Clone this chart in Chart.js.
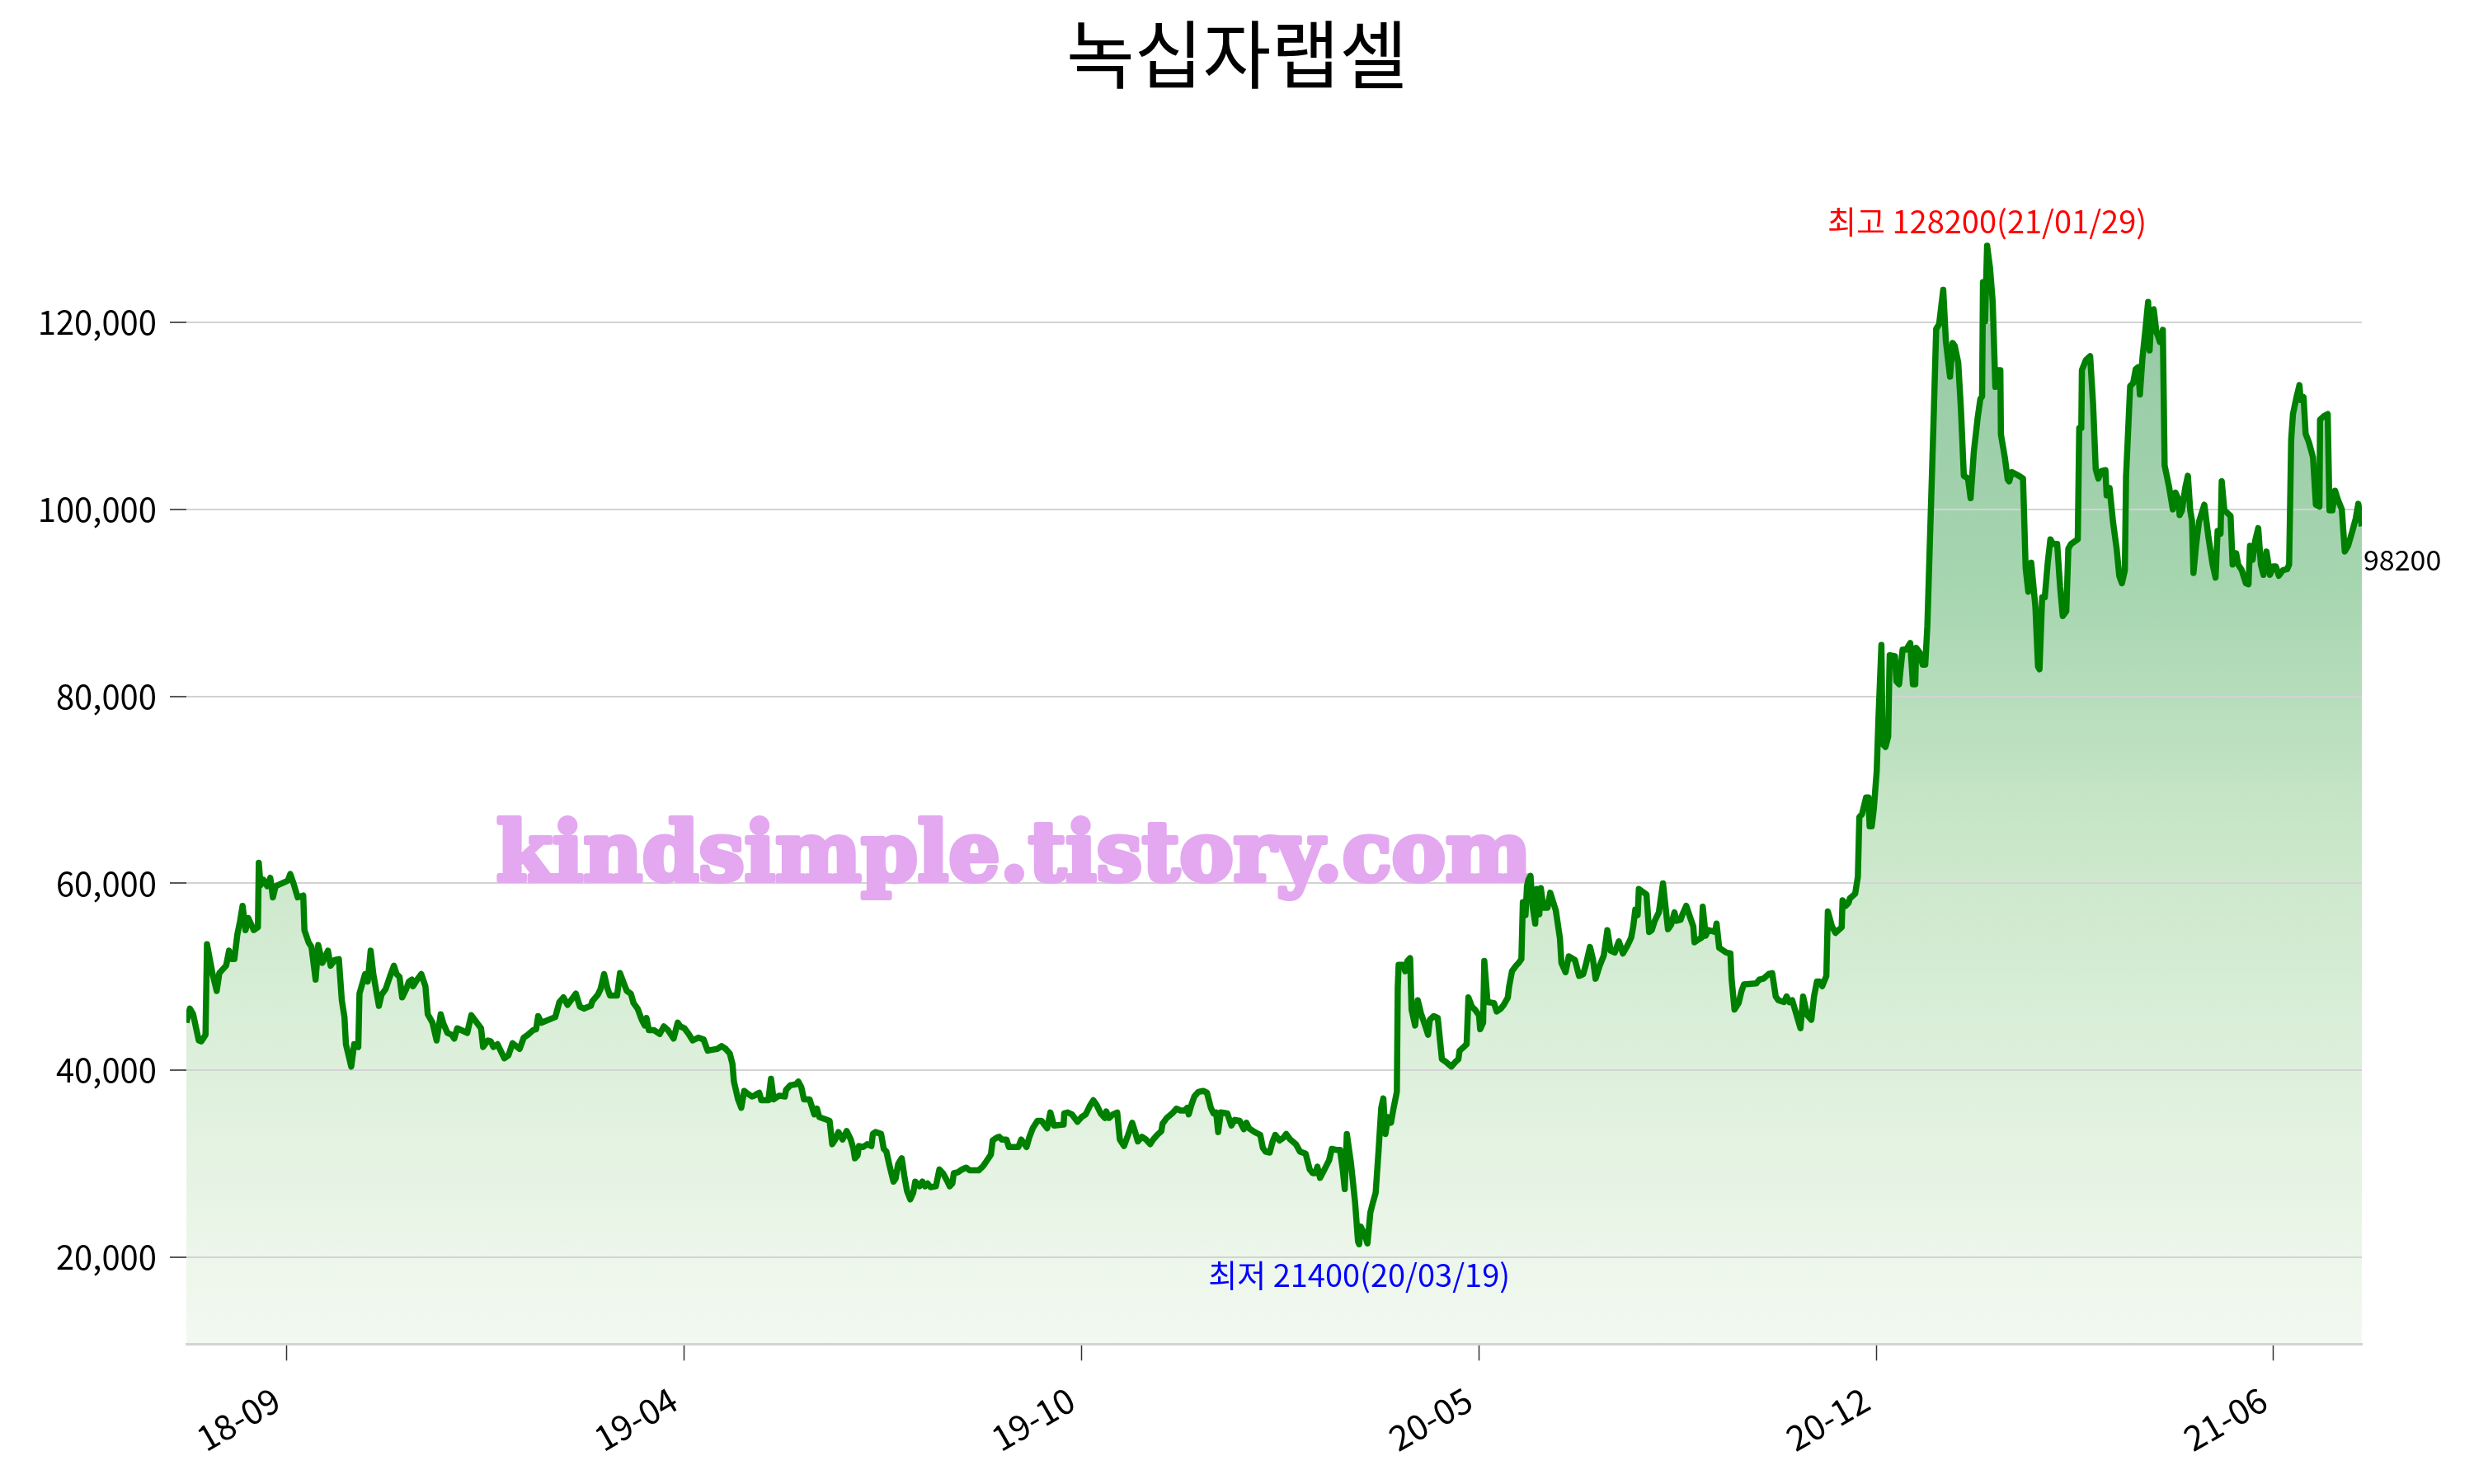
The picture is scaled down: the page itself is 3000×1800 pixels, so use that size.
<!DOCTYPE html>
<html><head><meta charset="utf-8">
<script src="https://cdn.jsdelivr.net/npm/chart.js@4.4.0/dist/chart.umd.min.js"></script>
<style>html,body{margin:0;padding:0;background:#fff}#wrap{width:3000px;height:1800px;position:relative}</style>
</head><body><div id="wrap"><canvas id="c"></canvas></div>
<script>
const titleText = '녹십자랩셀';
// trading-day index (x)
const days = [
0,1.2,2.3,4.2,5.1,6.5,7.0,8.9,10.3,11.2,13.5,14.5,15.4,16.3,17.3,18.2,19.1,20.1,21.0,21.9,22.9,24.3,24.6,25.2,26.1,27.5,28.5,29.4,30.3,33.1,34.5,35.3,36.4,37.8,39.7,40.1,41.5,42.5,43.9,44.8,46.2,48.1,49.0,50.4,51.8,52.8,53.7,54.2,56.0,57.0,58.4,58.8,59.8,60.7,61.6,62.6,63.5,65.4,66.3,67.7,69.1,70.5,71.4,72.4,73.3,74.7,75.6,76.6,77.0,78.4,79.8,81.2,82.0,83.6,85.0,86.4,87.3,88.7,90.1,91.0,92.0,93.4,
95.4,96.8,98.2,100.1,100.8,102.4,103.4,104.3,105.7,108.0,109.4,110.8,113.2,114.6,116.0,117.8,118.8,119.5,120.6,125.3,126.7,128.1,129.5,132.3,133.7,135.1,136.5,137.4,137.9,139.8,140.7,141.9,143.0,143.9,146.3,147.3,148.6,149.6,151.0,151.9,153.3,154.7,155.7,156.3,157.1,158.9,160.8,162.2,163.6,165.5,166.9,167.8,169.2,170.6,172.0,173.9,175.7,177.1,178.5,180.4,181.8,183.2,184.6,185.5,186.0,187.4,
188.5,189.5,190.7,192.1,193.0,193.9,194.6,195.3,197.7,198.6,199.5,201.4,203.3,203.7,205.1,207.0,207.9,208.9,209.8,211.7,212.6,213.3,214.2,215.0,216.8,218.5,219.4,220.4,221.5,222.9,224.3,225.7,226.6,227.1,228.0,228.5,229.9,231.3,232.7,233.2,234.1,236.0,236.9,237.8,238.8,240.2,240.9,241.8,243.0,243.9,244.8,245.9,246.9,247.6,249.0,250.0,250.9,251.8,252.8,254.6,255.8,257.0,258.4,259.3,260.2,260.7,262.1,263.5,264.9,266.1,269.1,270.5,271.4,273.3,273.9,275.2,276.1,277.0,278.6,279.4,282.6,283.6,
285.4,286.3,287.5,289.1,290.5,292.4,293.5,294.7,298.0,298.2,299.4,300.8,302.7,304.1,305.5,306.9,308.1,309.2,310.6,312.0,312.5,313.4,314.8,316.2,317.1,318.5,319.9,321.3,322.3,323.2,324.6,326.0,327.4,328.4,329.8,331.2,331.6,333.0,334.9,336.3,337.7,339.1,340.0,340.5,341.4,342.4,343.8,345.4,346.7,348.0,348.9,349.8,350.5,351.4,353.6,355.0,356.1,357.8,359.2,360.1,361.0,362.9,364.8,365.7,366.6,368.0,369.0,369.9,371.3,372.7,373.6,375.0,376.9,378.3,
380.2,381.6,382.6,383.5,384.2,385.1,386.6,388.2,389.1,390.5,391.9,392.8,393.5,394.2,395.6,397.0,398.0,398.4,398.9,400.3,401.2,402.2,403.1,404.0,405.0,405.9,406.6,407.3,408.2,409.2,410.1,411.2,411.5,411.8,413.4,414.0,414.8,415.7,416.2,417.4,418.3,419.4,420.9,421.8,422.4,423.7,425.1,426.5,427.9,429.7,431.1,432.1,432.5,433.9,434.9,435.5,436.7,437.7,439.1,439.5,440.5,440.9,442.0,444.2,445.1,446.5,447.5,448.9,449.3,450.3,451.7,452.6,453.5,454.0,454.9,455.4,455.9,456.6,457.3,458.2,458.7,459.6,460.1,461.0,462.4,463.3,465.2,466.6,467.1,468.5,
469.6,471.7,473.1,474.5,475.4,476.8,477.8,478.7,480.1,481.5,482.7,483.8,485.2,486.6,488.0,489.6,490.8,491.5,492.2,493.0,493.4,496.0,496.9,497.8,498.8,500.2,501.6,503.3,504.4,505.5,506.2,507.6,508.1,509.5,510.9,511.9,512.3,513.7,514.7,515.1,516.1,517.0,519.3,519.8,520.7,523.1,524.5,524.9,525.9,527.3,528.2,529.1,533.3,534.3,535.7,537.5,538.7,539.9,540.8,542.7,543.6,544.5,545.5,546.9,548.3,549.2,550.6,552.0,552.9,553.9,554.8,555.7,557.1,557.6,559.0,560.2,562.3,562.6,563.7,564.6,565.1,
566.9,567.8,568.3,569.2,570.6,571.4,571.8,572.5,573.2,574.2,574.8,575.8,576.2,577.2,578.1,578.6,580.4,580.9,581.8,583.0,584.2,585.6,586.5,587.3,587.6,588.8,589.8,590.7,591.4,592.1,593.5,594.4,595.4,596.8,597.7,599.1,600.0,600.7,601.9,602.8,603.8,605.2,606.1,607.2,608.5,609.4,610.0,610.3,611.0,611.7,612.7,613.6,614.5,615.5,616.2,616.4,617.8,618.7,619.2,620.1,622.5,623.9,624.8,625.7,626.7,628.1,629.0,629.5,630.4,631.3,632.3,633.2,634.1,635.5,636.5,637.4,638.6,639.3,640.2,642.5,643.0,643.7,643.9,645.3,646.7,647.7,648.6,649.5,650.5,651.9,652.3,653.3,
654.5,655.7,656.6,657.5,658.5,658.9,660.3,661.3,662.2,663.0,663.6,664.5,665.5,666.4,666.9,667.6,668.3,669.2,669.9,670.4,671.4,672.0,673.4,674.8,675.7,676.7,677.1,677.9,679.0,679.9,680.7,681.3,681.8,682.7,683.7,685.5,686.9,688.3,689.3,690.0,691.0,691.4,692.3,694.4,695.1,696.3,697.0,698.2,699.6,700.5,701.0,701.9,702.8,703.8,704.7,705.6,706.6,707.8,708.9,709.8,710.8,712.2,713.6,714.3,715.0,715.6,716.8,717.8,718.2,719.2,719.9,721.0,722.4,723.4,724.6,724.8,726.2,727.4,728.0,729.0,729.9,730.8,732.2,733.2,734.3,735.8,736.9,737.8,739.0
];
// closing prices (KRW)
const prices = [
45100,46600,46000,43200,43100,43800,53500,50300,48500,50400,51200,52800,51900,51900,54500,55900,57600,55000,56300,55700,55000,55300,62200,59800,60400,59700,60600,58500,59700,60100,60300,61000,60000,58500,58700,55000,53700,53200,49700,53400,51500,52800,51200,51800,51900,47500,45700,42800,40400,42800,42500,48200,49300,50300,49500,52800,50300,46900,48100,48700,50000,51200,50300,50000,47800,48700,49500,49700,49000,49700,50300,49000,46000,45100,43200,46000,45000,44000,43800,43400,44500,44300,
44000,45900,45300,44500,42500,43200,43100,42500,42800,41300,41600,42900,42300,43500,43800,44300,44400,45800,45100,45700,47300,47800,47000,48200,46800,46600,46800,46900,47400,48100,48700,50300,48800,48000,48000,50400,49300,48500,48200,47200,46600,45400,44800,45600,44300,44300,43900,44700,44300,43400,45100,44700,44500,43900,43200,43500,43300,42100,42200,42300,42600,42300,41800,40700,38800,36900,
36000,37800,37500,37200,37300,37500,37600,36800,36800,39100,36900,37300,37200,37900,38400,38500,38800,38200,36900,36900,36000,35300,35900,35000,34800,34600,32100,32600,33400,32600,33500,32600,31600,30600,30900,31900,31800,32100,31900,33200,33400,33200,31600,31300,29900,28100,28400,30000,30600,28700,27100,26200,26900,28100,27600,28100,27600,27900,27500,27600,29400,29000,28200,27600,27900,29000,29100,29400,29600,29300,29300,29700,30100,31000,32500,32800,32900,32600,32600,31800,31800,32600,
31800,32800,33800,34600,34600,33800,35500,34100,34200,35400,35500,35300,34500,35000,35300,36200,36800,36300,35400,34900,35600,34900,35300,35500,32600,31900,33100,34400,33400,32400,32900,32600,32100,32600,33100,33500,34300,34900,35400,35900,35700,35700,36000,35300,36300,37200,37700,37800,37600,36000,35400,35500,33400,35500,35400,34100,34700,34600,33700,34400,33800,33400,33100,31700,31300,31200,32400,33100,32500,32800,33200,32600,32100,31300,
31100,29400,29000,29000,29700,28500,29400,30400,31600,31500,31500,29400,27300,33200,30100,25900,21700,21400,23300,22400,21500,24800,25900,26900,31500,36000,37000,33200,35000,34400,36000,37700,48900,51300,51300,50600,51700,52000,46500,44800,47500,46100,44700,43800,45400,45800,45600,41200,40900,40400,40900,41200,42100,42500,42800,47800,46800,46500,45900,44400,45100,51700,47300,47200,46300,46600,47000,47800,48900,50600,51200,51500,51900,58000,56600,59700,60400,60800,57600,55700,59400,56700,59500,57400,57400,59000,57100,54100,51500,50500,
52200,51800,50100,50300,51300,53200,51900,49800,51200,52300,55000,52800,52600,53800,52500,53400,54200,55400,57200,56600,59400,58800,54800,55000,56000,56900,60000,55100,55600,56900,56000,56100,56600,57600,56300,55400,53700,54000,54200,57500,54400,55000,54800,55700,53100,52600,52500,49800,46500,47200,48400,49200,49300,49700,49800,50300,50400,47900,47500,47300,47900,47300,47500,46000,44500,47900,45900,45400,47900,49500,49500,49000,50100,57000,55400,54700,55300,58200,57600,57900,58400,
58900,60700,67100,67400,69200,69200,66100,66100,67900,72000,77700,85500,74900,74600,75700,84400,84300,81600,81300,85000,85000,85700,81300,81300,85200,84700,83400,83400,87500,94800,109300,119300,119800,123500,118000,114200,117800,117500,115700,110800,103600,103300,101200,106200,109800,111800,112100,124300,120100,128200,125800,122200,113100,114900,114900,108000,105400,103200,103000,104000,103600,103300,93700,91200,94300,89600,83200,82900,90600,90600,94300,96800,96300,96300,91700,88600,89100,95800,96300,96800,108700,108700,114900,116000,116400,111300,104300,103300,104100,104200,101500,102300,
98600,95800,92900,92100,93500,103500,113200,113500,115000,115200,112300,116300,119300,122200,117000,121300,121400,119000,118400,117900,119200,104700,102600,100000,101800,101100,99400,99900,102300,103600,99900,98800,93200,96200,98700,100500,97000,94100,92700,97700,97400,103000,99900,99300,94100,95300,94100,93500,92100,92000,96100,94600,96700,98000,94100,93000,95500,93000,93900,93900,92900,93500,93600,94100,107500,110200,112000,113300,111700,112000,108100,107200,105600,100500,100300,109600,110000,110200,99900,99900,102000,101100,100000,95500,96100,97700,99000,100600,98200
];
const xTickDays = [34, 169, 304, 439, 574, 709];
const xTickLabels = ['18-09', '19-04', '19-10', '20-05', '20-12', '21-06'];
const yTicks = [20000, 40000, 60000, 80000, 100000, 120000];
const maxLabel = '최고', maxDate = '21/01/29';
const minLabel = '최저', minDate = '20/03/19';
const watermark = 'kindsimple.tistory.com';

const hiVal = Math.max(...prices), loVal = Math.min(...prices);
const span = hiVal - loVal;
const yMin = loVal - span * 0.1, yMax = hiVal + span * 0.1;
const xMax = days[days.length - 1];
const FONT = '"Noto Sans CJK KR", "Noto Sans", sans-serif';

const points = days.map((d, i) => ({x: d, y: prices[i]}));

function fillGradient(c) {
  const {ctx, chartArea} = c.chart;
  if (!chartArea) return 'rgba(0,128,0,0.2)';
  const g = ctx.createLinearGradient(0, chartArea.top, 0, chartArea.bottom);
  g.addColorStop(0, 'rgb(140,195,158)');
  g.addColorStop(0.083, 'rgb(147,199,163)');
  g.addColorStop(0.36, 'rgb(165,213,175)');
  g.addColorStop(0.566, 'rgb(200,230,200)');
  g.addColorStop(0.773, 'rgb(222,240,220)');
  g.addColorStop(1, 'rgb(243,249,241)');
  return g;
}

const annotations = {
  id: 'annotations',
  beforeDatasetsDraw(chart) {
    const ctx = chart.ctx;
    ctx.save();
    ctx.font = 'bold 100px "DejaVu Serif"';
    const w = ctx.measureText(watermark).width;
    ctx.fillStyle = 'rgb(227,168,239)';
    ctx.strokeStyle = 'rgb(227,168,239)';
    ctx.lineWidth = 6;
    ctx.lineJoin = 'round';
    ctx.textBaseline = 'alphabetic';
    ctx.textAlign = 'left';
    ctx.translate(602, 1068);
    ctx.scale(1255 / w, 1);
    ctx.strokeText(watermark, 0, 0);
    ctx.fillText(watermark, 0, 0);
    ctx.restore();
  },
  afterDatasetsDraw(chart) {
    const ctx = chart.ctx, xs = chart.scales.x, ys = chart.scales.y;
    const iHi = prices.indexOf(hiVal), iLo = prices.indexOf(loVal), iLast = prices.length - 1;
    ctx.save();
    ctx.font = '38px ' + FONT;
    ctx.textAlign = 'center';
    ctx.textBaseline = 'alphabetic';
    ctx.fillStyle = '#ff0000';
    ctx.fillText(maxLabel + ' ' + hiVal + '(' + maxDate + ')', xs.getPixelForValue(days[iHi]), ys.getPixelForValue(hiVal) - 15);
    ctx.fillStyle = '#0000ff';
    ctx.fillText(minLabel + ' ' + loVal + '(' + minDate + ')', xs.getPixelForValue(days[iLo]), ys.getPixelForValue(loVal) + 52);
    ctx.fillStyle = '#000000';
    ctx.textAlign = 'left';
    ctx.font = '34px ' + FONT;
    ctx.fillText(String(prices[iLast]), xs.getPixelForValue(days[iLast]) + 2, ys.getPixelForValue(prices[iLast]) + 54);
    ctx.restore();
  }
};

new Chart(document.getElementById('c'), {
  type: 'line',
  data: {
    datasets: [{
      data: points,
      borderColor: '#008000',
      borderWidth: 7.5,
      borderJoinStyle: 'round',
      pointRadius: 0,
      tension: 0,
      fill: 'start',
      backgroundColor: fillGradient
    }]
  },
  options: {
    responsive: true,
    maintainAspectRatio: false,
    animation: false,
    events: [],
    layout: {padding: 0},
    plugins: {
      legend: {display: false},
      tooltip: {enabled: false},
      filler: {drawTime: 'beforeDraw'},
      title: {
        display: true, text: titleText, color: '#000',
        font: {family: FONT, size: 90, weight: 'normal'},
        padding: {top: 12, bottom: 57}
      }
    },
    scales: {
      x: {
        type: 'linear', min: 0, max: xMax,
        afterBuildTicks: s => { s.ticks = xTickDays.map(v => ({value: v})); },
        afterFit: s => { s.height = 169.7; },
        grid: {drawOnChartArea: false, drawTicks: true, tickLength: 20, tickColor: '#333', tickWidth: 1.5},
        border: {display: true, color: '#d3d3d3', width: 3},
        ticks: {
          autoSkip: false, maxRotation: 30, minRotation: 30, padding: 22, labelOffset: -12, color: '#000',
          font: {family: FONT, size: 42},
          callback: v => xTickLabels[xTickDays.indexOf(v)]
        }
      },
      y: {
        min: yMin, max: yMax,
        afterBuildTicks: s => { s.ticks = yTicks.map(v => ({value: v})); },
        afterFit: s => { s.width = 226; },
        grid: {color: '#d3d3d3', lineWidth: 2, tickLength: 20, tickColor: '#222', tickWidth: 1.5},
        border: {display: false},
        ticks: {
          padding: 16, color: '#000',
          font: {family: FONT, size: 40},
          callback: v => Number(v).toLocaleString('en-US')
        }
      },
      yRight: {
        position: 'right', display: true,
        afterFit: s => { s.width = 136; },
        grid: {display: false, drawTicks: false},
        border: {display: false},
        ticks: {display: false}
      }
    }
  },
  plugins: [annotations]
});
</script>
</body></html>
